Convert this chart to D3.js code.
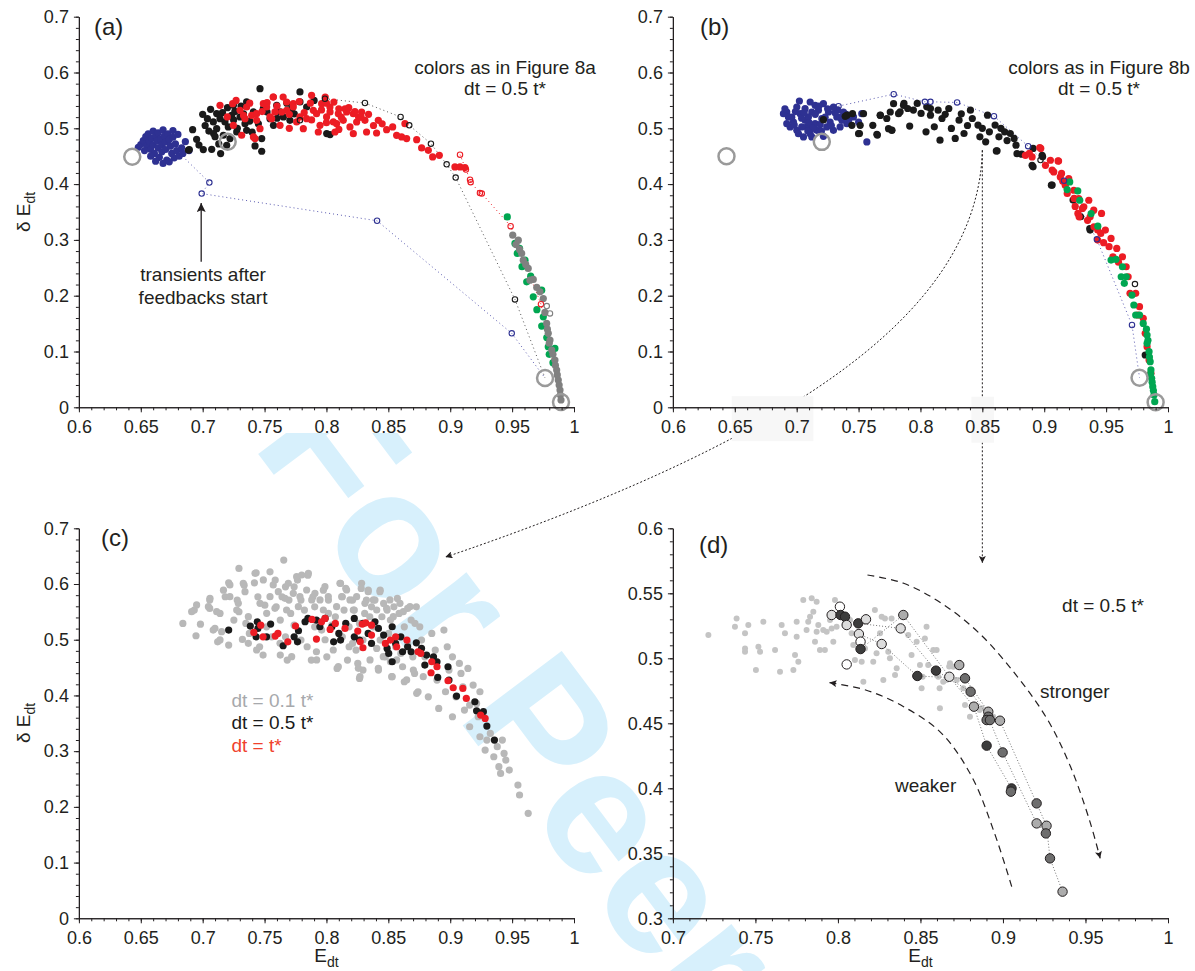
<!DOCTYPE html>
<html><head><meta charset="utf-8">
<script src="https://cdn.jsdelivr.net/npm/d3@7"></script>
<style>
body{margin:0;background:#fff;}
text{font-family:"Liberation Sans",Arial,Helvetica,sans-serif;}
</style></head>
<body><div id="chart"></div>
<script>
// ---------------- tick labels ----------------
const xTicksABC = [0.6,0.65,0.7,0.75,0.8,0.85,0.9,0.95,1];
const yTicksABC = [0,0.1,0.2,0.3,0.4,0.5,0.6,0.7];
const xTicksD = [0.7,0.75,0.8,0.85,0.9,0.95,1];
const yTicksD = [0.3,0.35,0.4,0.45,0.5,0.55,0.6];

// ---------------- panel (a) ----------------
const aBlue = [[0.648,0.466],[0.650,0.471],[0.652,0.478],[0.654,0.485],[0.655,0.469],[0.656,0.490],[0.657,0.476],[0.658,0.462],[0.659,0.482],[0.660,0.495],[0.660,0.470],[0.661,0.455],[0.662,0.487],[0.663,0.477],[0.664,0.465],[0.664,0.492],[0.665,0.448],[0.666,0.481],[0.667,0.470],[0.667,0.458],[0.668,0.497],[0.669,0.486],[0.670,0.475],[0.670,0.462],[0.671,0.443],[0.672,0.490],[0.673,0.480],[0.674,0.468],[0.675,0.455],[0.676,0.496],[0.676,0.484],[0.677,0.447],[0.678,0.472],[0.679,0.460],[0.680,0.489],[0.681,0.450],[0.683,0.465],[0.684,0.455],[0.686,0.476],[0.689,0.460],[0.662,0.441],[0.668,0.437],[0.673,0.440],[0.658,0.450],[0.653,0.460]];
const aBlack = [[0.6885,0.461],[0.6919,0.4976],[0.6951,0.4803],[0.6892,0.4618],[0.7005,0.4618],[0.7073,0.4624],[0.7145,0.4547],[0.7064,0.534],[0.7038,0.5173],[0.7113,0.5263],[0.718,0.5114],[0.7463,0.571],[0.7477,0.4815],[0.7423,0.4684],[0.7477,0.4589],[0.7248,0.5412],[0.7355,0.5472],[0.741,0.5293],[0.7544,0.5173],[0.7652,0.5203],[0.7786,0.5651],[0.7786,0.5472],[0.7705,0.5143],[0.8002,0.4905],[0.8029,0.4887],[0.7221,0.4815],[0.7194,0.4696],[0.7275,0.4935],[0.7113,0.4994],[0.7086,0.5114],[0.714,0.5173],[0.7302,0.5203],[0.7342,0.5083],[0.7207,0.5024],[0.7167,0.4875],[0.7234,0.5233],[0.749,0.5352],[0.7598,0.5412],[0.7625,0.5293],[0.7719,0.5352],[0.784,0.5382],[0.726,0.5303],[0.7088,0.4905],[0.7355,0.4964],[0.7572,0.5054],[0.702,0.505],[0.705,0.495],[0.71,0.485],[0.713,0.472],[0.716,0.528],[0.72,0.537],[0.725,0.515],[0.728,0.5],[0.731,0.54],[0.733,0.526],[0.738,0.513],[0.74,0.493],[0.745,0.508],[0.752,0.529],[0.76,0.518],[0.768,0.545],[0.774,0.526],[0.79,0.55],[0.7,0.525],[0.697,0.47]];
const aRed = [[0.714,0.5412],[0.7242,0.5442],[0.7199,0.5203],[0.7302,0.5323],[0.7342,0.5173],[0.7315,0.4875],[0.7355,0.5382],[0.7436,0.5143],[0.7423,0.4815],[0.7517,0.5382],[0.7571,0.5561],[0.7584,0.5293],[0.7625,0.5054],[0.7679,0.5323],[0.7732,0.5442],[0.7759,0.5114],[0.784,0.5173],[0.788,0.5591],[0.7894,0.5323],[0.7961,0.5442],[0.7948,0.5054],[0.8029,0.5293],[0.8056,0.5114],[0.7463,0.4994],[0.7396,0.5233],[0.7248,0.5054],[0.7557,0.5173],[0.757,0.556],[0.7678,0.5471],[0.8028,0.5382],[0.8096,0.5262],[0.8163,0.5292],[0.8217,0.5262],[0.819,0.5024],[0.8284,0.5292],[0.8311,0.5143],[0.8217,0.4904],[0.8324,0.4934],[0.8419,0.5143],[0.8405,0.4916],[0.8486,0.4976],[0.8535,0.5024],[0.8567,0.4874],[0.8607,0.4845],[0.8634,0.5083],[0.8648,0.4815],[0.8729,0.4797],[0.8769,0.4648],[0.8823,0.4606],[0.8858,0.4487],[0.8912,0.4516],[0.9038,0.4308],[0.9079,0.4308],[0.9119,0.4296],[0.7813,0.4994],[0.7934,0.4934],[0.8069,0.4934],[0.8082,0.5083],[0.8001,0.5203],[0.8136,0.5143],[0.792,0.5262],[0.7786,0.5203],[0.7732,0.5382],[0.7638,0.5292],[0.7544,0.5203],[0.749,0.5441],[0.7436,0.5262],[0.741,0.4845],[0.8244,0.5113],[0.815,0.535],[0.806,0.547],[0.826,0.52],[0.799,0.556],[0.727,0.55],[0.733,0.523],[0.738,0.545],[0.748,0.53],[0.752,0.546],[0.76,0.54],[0.765,0.556],[0.77,0.525],[0.778,0.548],[0.782,0.528],[0.787,0.545],[0.796,0.533],[0.8,0.545],[0.81,0.535],[0.812,0.52],[0.818,0.537],[0.823,0.53],[0.828,0.52],[0.834,0.525],[0.838,0.505],[0.845,0.508],[0.81,0.498],[0.8,0.51],[0.788,0.515],[0.77,0.5]];
const aGreen = [[0.9461,0.3412],[0.9523,0.2936],[0.9542,0.2757],[0.9604,0.2637],[0.9618,0.2249],[0.9671,0.198],[0.9739,0.2099],[0.9752,0.1622],[0.9739,0.1455],[0.9792,0.1085],[0.9846,0.1055],[0.956,0.285],[0.958,0.252],[0.965,0.235],[0.970,0.175],[0.978,0.125],[0.980,0.095],[0.983,0.080]];
const aGray = [[0.9505,0.3085],[0.955,0.2995],[0.9531,0.2918],[0.9577,0.2757],[0.959,0.2637],[0.963,0.2488],[0.9644,0.2279],[0.9671,0.2291],[0.9699,0.2148],[0.9725,0.207],[0.9752,0.195],[0.9779,0.1504],[0.9792,0.1325],[0.9806,0.1205],[0.982,0.1026],[0.9846,0.0847],[0.986,0.0668],[0.9873,0.0489],[0.9887,0.031],[0.9895,0.0131],[0.9765,0.17],[0.9785,0.14],[0.98,0.115],[0.983,0.095],[0.985,0.075],[0.9865,0.058],[0.988,0.04],[0.989,0.022],[0.961,0.256],[0.956,0.283]];
const aOpenBlack = [[0.7988,0.553],[0.8311,0.5453],[0.8599,0.5203],[0.8669,0.5053],[0.8844,0.4725],[0.8971,0.4355],[0.9044,0.4117],[0.9523,0.1933]];
const aOpenBlackExtra = [[0.7786,0.5143]];
const aOpenRed = [[0.9079,0.4528],[0.9127,0.426],[0.916,0.408],[0.9165,0.4035],[0.924,0.384],[0.9255,0.383],[0.9488,0.3246],[0.9733,0.1849]];
const aOpenBlue = [[0.7054,0.4028],[0.6992,0.383],[0.8409,0.3343],[0.9497,0.1325]];
const aOpenGray = [[0.978,0.1814],[0.9806,0.1683]];
const aBig = [[0.6431,0.449],[0.7202,0.4758],[0.9766,0.0525],[0.9895,0.0095]];
const aBlueStart = [0.686,0.445];
const aArrow = [[0.6988,0.261],[0.6988,0.366]];

// ---------------- panel (b) ----------------
const bBlue = [[0.692,0.529],[0.6933,0.5203],[0.7022,0.5489],[0.7001,0.5382],[0.7028,0.5262],[0.7068,0.5143],[0.6947,0.5024],[0.7001,0.4964],[0.7109,0.5471],[0.7122,0.5292],[0.7149,0.5083],[0.7109,0.4904],[0.7216,0.5441],[0.7203,0.5173],[0.7243,0.5024],[0.7216,0.4857],[0.7297,0.5382],[0.7324,0.5203],[0.7351,0.5024],[0.7378,0.5292],[0.7405,0.5083],[0.7055,0.4845],[0.7163,0.4964],[0.7082,0.5024],[0.6974,0.5113],[0.727,0.5113],[0.7176,0.5322],[0.7068,0.5352],[0.7567,0.4755],[0.75,0.5113],[0.7526,0.5262],[0.7459,0.5203],[0.6893,0.5262],[0.7041,0.5024],[0.7095,0.5203],[0.7149,0.5412],[0.7257,0.5292],[0.7297,0.4964],[0.7365,0.5143],[0.692,0.5083],[0.7014,0.4904],[0.7122,0.4845],[0.6905,0.535],[0.719,0.507],[0.733,0.533],[0.696,0.52],[0.699,0.53],[0.704,0.518],[0.706,0.528],[0.71,0.51],[0.713,0.5],[0.715,0.525],[0.718,0.54],[0.723,0.52],[0.728,0.505],[0.731,0.528],[0.735,0.52],[0.74,0.525],[0.698,0.506],[0.709,0.495],[0.72,0.495],[0.725,0.535],[0.742,0.515]];
const bBlack = [[0.7216,0.5155],[0.7392,0.5215],[0.7451,0.5262],[0.7446,0.5054],[0.7513,0.5054],[0.75,0.4904],[0.754,0.5262],[0.7615,0.5054],[0.7648,0.4892],[0.7675,0.5232],[0.7742,0.4994],[0.7769,0.4964],[0.7756,0.5292],[0.7783,0.5441],[0.7823,0.5262],[0.7863,0.5411],[0.7406,0.5236],[0.7507,0.4907],[0.7652,0.4878],[0.7676,0.5236],[0.7728,0.5176],[0.7768,0.4967],[0.7836,0.5296],[0.7867,0.5445],[0.7913,0.5039],[0.7943,0.5326],[0.7974,0.5445],[0.8005,0.5266],[0.8045,0.4937],[0.8081,0.5236],[0.8112,0.5027],[0.8158,0.4788],[0.8174,0.5176],[0.8229,0.5355],[0.825,0.4997],[0.8281,0.4818],[0.8312,0.5146],[0.8352,0.4907],[0.8404,0.5325],[0.8419,0.5176],[0.8465,0.5057],[0.848,0.4848],[0.8527,0.4758],[0.8542,0.5236],[0.8557,0.4937],[0.8603,0.5057],[0.8619,0.4597],[0.8634,0.4848],[0.868,0.4937],[0.8726,0.4907],[0.8757,0.4818],[0.8772,0.4698],[0.8818,0.4537],[0.891,0.4639],[0.8987,0.4489],[0.891,0.431],[0.9064,0.3982],[0.9233,0.3713],[0.9294,0.3415],[0.9371,0.3176],[0.9816,0.0937],[0.8081,0.5355],[0.8143,0.5325],[0.7897,0.5355],[0.8051,0.5385],[0.878,0.4546],[0.8902,0.4337],[0.9058,0.398],[0.9368,0.3204],[0.8613,0.4594],[0.8983,0.4516],[0.82,0.525],[0.838,0.505],[0.85,0.5],[0.865,0.5],[0.833,0.526],[0.87,0.478]];
const bRed = [[0.8848,0.4516],[0.8902,0.4487],[0.8964,0.4654],[0.901,0.4337],[0.905,0.4427],[0.9112,0.4415],[0.9077,0.4218],[0.913,0.4129],[0.917,0.398],[0.9198,0.4099],[0.9239,0.389],[0.9279,0.3741],[0.936,0.3711],[0.932,0.3592],[0.9282,0.3413],[0.94,0.3532],[0.888,0.4549],[0.8972,0.4639],[0.9116,0.4412],[0.9064,0.4251],[0.914,0.4191],[0.9171,0.4012],[0.9186,0.3833],[0.9242,0.3743],[0.9309,0.3564],[0.9272,0.3474],[0.9371,0.3415],[0.9463,0.3474],[0.9402,0.3236],[0.9457,0.3116],[0.9494,0.3176],[0.9432,0.2997],[0.954,0.3027],[0.9524,0.2878],[0.9586,0.2848],[0.9555,0.2698],[0.9632,0.2698],[0.9662,0.2519],[0.9678,0.234],[0.9693,0.2042],[0.9739,0.2042],[0.977,0.1803],[0.9755,0.1654],[0.98,0.1594],[0.9816,0.1325],[0.9831,0.1087],[0.9847,0.0848],[0.9862,0.0609],[0.9432,0.3176],[0.935,0.335],[0.948,0.295],[0.96,0.26],[0.925,0.36],[0.915,0.405]];
const bGreen = [[0.9206,0.4039],[0.9185,0.3902],[0.9271,0.3878],[0.9287,0.3711],[0.9379,0.3472],[0.9433,0.3246],[0.954,0.2639],[0.958,0.2651],[0.9632,0.2519],[0.9622,0.234],[0.9662,0.234],[0.9647,0.2221],[0.9709,0.2012],[0.9724,0.1833],[0.9739,0.1654],[0.977,0.1654],[0.98,0.1504],[0.9831,0.1295],[0.9831,0.1146],[0.9847,0.0997],[0.9856,0.0818],[0.9862,0.0669],[0.9868,0.0519],[0.9877,0.037],[0.9887,0.0221],[0.9893,0.0101],[0.9838,0.12],[0.985,0.09],[0.986,0.06],[0.9872,0.045],[0.9882,0.03],[0.9826,0.14]];
const bOpenBlue = [[0.7338,0.5397],[0.7784,0.5612],[0.8036,0.5475],[0.8081,0.5475],[0.8296,0.5463],[0.8594,0.5218],[0.887,0.468],[0.916,0.406],[0.9425,0.301],[0.9709,0.1475]];
const bOpenBlack = [[0.9733,0.2209],[0.897,0.443]];
const bBig = [[0.6433,0.45],[0.7203,0.4757],[0.977,0.053],[0.99,0.009]];
// links from (b) to (c) and (d), in (b) data units
const bCurve = [[0.85,0.4606],[0.8468,0.192],[0.719,-0.0406],[0.4162,-0.2685]];
const bDrop = [[0.85,0.4606],[0.85,-0.279]];

// ---------------- panel (c) ----------------
const cGray = [[0.684,0.5293],[0.6932,0.5532],[0.6946,0.5071],[0.6982,0.528],[0.7057,0.5711],[0.7057,0.5561],[0.7085,0.5173],[0.7121,0.4963],[0.714,0.5472],[0.7168,0.589],[0.7182,0.5771],[0.721,0.6022],[0.721,0.4904],[0.7279,0.5711],[0.7293,0.6279],[0.7293,0.5502],[0.7321,0.5005],[0.7335,0.598],[0.7349,0.5293],[0.7418,0.6022],[0.7432,0.6201],[0.7446,0.5771],[0.746,0.4874],[0.7488,0.4724],[0.7502,0.5621],[0.7544,0.6219],[0.7558,0.5053],[0.7586,0.607],[0.7594,0.5591],[0.7627,0.4724],[0.7641,0.5771],[0.7655,0.6429],[0.7669,0.595],[0.7683,0.4634],[0.7697,0.5711],[0.7711,0.5472],[0.7739,0.595],[0.7766,0.607],[0.7794,0.5711],[0.7822,0.5532],[0.785,0.6159],[0.7844,0.4874],[0.7878,0.4634],[0.7891,0.5771],[0.7905,0.5591],[0.7975,0.589],[0.7989,0.5],[0.8016,0.5472],[0.8044,0.5262],[0.8072,0.5412],[0.8086,0.4485],[0.8114,0.601],[0.8128,0.5771],[0.8142,0.5532],[0.8156,0.592],[0.817,0.4634],[0.8183,0.4874],[0.8211,0.5711],[0.8225,0.5532],[0.8239,0.4814],[0.8253,0.4575],[0.8267,0.4306],[0.8281,0.592],[0.8295,0.4455],[0.8309,0.5472],[0.8323,0.5711],[0.8337,0.5861],[0.835,0.5412],[0.8364,0.5591],[0.8378,0.5232],[0.8392,0.5711],[0.8406,0.4844],[0.842,0.4455],[0.8434,0.589],[0.8448,0.5412],[0.8462,0.5651],[0.8476,0.4694],[0.849,0.5532],[0.8503,0.5113],[0.8517,0.4605],[0.8531,0.4336],[0.8545,0.5591],[0.8573,0.5741],[0.8587,0.5472],[0.8601,0.4754],[0.8615,0.4515],[0.8629,0.4246],[0.8656,0.5561],[0.8684,0.5352],[0.8698,0.4694],[0.8712,0.4395],[0.8726,0.5591],[0.874,0.4066],[0.8754,0.5232],[0.8768,0.4993],[0.8782,0.4336],[0.8795,0.4694],[0.8823,0.3976],[0.8851,0.5113],[0.8865,0.4634],[0.8893,0.4276],[0.8907,0.3767],[0.8949,0.5173],[0.8962,0.4066],[0.8976,0.4874],[0.899,0.4455],[0.9018,0.3618],[0.9046,0.3976],[0.9074,0.4575],[0.9102,0.4156],[0.9115,0.3737],[0.9143,0.4485],[0.9157,0.3438],[0.9185,0.4186],[0.9213,0.3857],[0.924,0.4066],[0.924,0.3259],[0.9282,0.302],[0.9296,0.3199],[0.9324,0.3319],[0.938,0.308],[0.9393,0.2721],[0.9407,0.2601],[0.9421,0.3199],[0.9449,0.284],[0.9477,0.2661],[0.9547,0.2392],[0.956,0.2213],[0.963,0.1884],[0.9435,0.296],[0.9352,0.29],[0.7516,0.5232],[0.7377,0.5113],[0.7669,0.5053],[0.7794,0.4993],[0.7919,0.4784],[0.7961,0.5173],[0.8003,0.4694],[0.8128,0.5053],[0.8211,0.4933],[0.8295,0.4993],[0.8434,0.4993],[0.8559,0.4874],[0.8656,0.4933],[0.8629,0.5232],[0.8517,0.5352],[0.8267,0.5293],[0.8183,0.5232],[0.7905,0.5232],[0.7739,0.5262],[0.7252,0.5353],[0.7627,0.5353],[0.8016,0.5711],[0.8879,0.4814],[0.9018,0.4694],[0.9087,0.4395],[0.9157,0.3827],[0.9226,0.3618],[0.6951,0.5624],[0.6911,0.5504],[0.7046,0.5594],[0.7059,0.5743],[0.7113,0.5504],[0.7099,0.5205],[0.714,0.4996],[0.7153,0.5145],[0.722,0.5983],[0.722,0.5773],[0.7288,0.5654],[0.7275,0.5534],[0.7328,0.6013],[0.7342,0.5863],[0.7369,0.5414],[0.7369,0.4936],[0.7423,0.6192],[0.7436,0.4816],[0.7463,0.5654],[0.749,0.6073],[0.7517,0.5474],[0.7544,0.5773],[0.757,0.5983],[0.7584,0.5564],[0.7611,0.5863],[0.7625,0.4936],[0.7665,0.5743],[0.7678,0.5534],[0.7692,0.6013],[0.7719,0.4696],[0.7732,0.5833],[0.7759,0.6132],[0.7773,0.5594],[0.7786,0.5773],[0.78,0.6162],[0.784,0.5893],[0.7854,0.6192],[0.7881,0.5714],[0.7907,0.5833],[0.7921,0.4637],[0.7948,0.5714],[0.7975,0.5534],[0.7988,0.5953],[0.8015,0.5773],[0.8055,0.4816],[0.8082,0.5594],[0.8096,0.4517],[0.8109,0.6013],[0.8123,0.5773],[0.8163,0.5893],[0.819,0.5714],[0.8217,0.5534],[0.8244,0.5773],[0.8258,0.4487],[0.8271,0.4337],[0.8284,0.6013],[0.8311,0.5654],[0.8338,0.5893],[0.8352,0.4637],[0.8379,0.5714],[0.8406,0.5534],[0.8419,0.4487],[0.8432,0.5863],[0.8459,0.4696],[0.8486,0.5564],[0.8513,0.5714],[0.8527,0.4337],[0.854,0.5414],[0.8567,0.4637],[0.8594,0.5654],[0.8621,0.5504],[0.8648,0.4278],[0.8675,0.5594],[0.8702,0.4457],[0.8715,0.5295],[0.8729,0.4038]];
const cBlack = [[0.721,0.5173],[0.7385,0.5245],[0.7441,0.5323],[0.7446,0.5203],[0.7432,0.5053],[0.7549,0.5281],[0.7516,0.5053],[0.765,0.4892],[0.7739,0.5053],[0.7766,0.4963],[0.7774,0.5161],[0.7827,0.5323],[0.785,0.5383],[0.7919,0.5353],[0.7947,0.5233],[0.7989,0.5383],[0.8044,0.5233],[0.8058,0.4963],[0.81,0.5113],[0.8114,0.4993],[0.8156,0.5293],[0.8225,0.5383],[0.8225,0.5053],[0.8267,0.4993],[0.8295,0.5293],[0.8337,0.5113],[0.8364,0.4933],[0.8392,0.5323],[0.842,0.5203],[0.8462,0.5083],[0.849,0.4844],[0.8503,0.4754],[0.8531,0.5233],[0.8531,0.4605],[0.8559,0.4933],[0.8601,0.5053],[0.8615,0.4784],[0.8656,0.4874],[0.8684,0.4784],[0.8726,0.4945],[0.8768,0.4844],[0.8809,0.4724],[0.8795,0.4545],[0.8865,0.4694],[0.8893,0.4605],[0.8899,0.4324],[0.8982,0.4515],[0.899,0.4276],[0.9051,0.3988],[0.9199,0.3887],[0.9213,0.3725],[0.9268,0.3708],[0.9296,0.3451],[0.9357,0.3199]];
const cRed = [[0.7413,0.5131],[0.7469,0.5262],[0.7488,0.5053],[0.7586,0.5065],[0.7608,0.5113],[0.7688,0.4963],[0.775,0.5245],[0.7883,0.5364],[0.7919,0.5011],[0.7961,0.5323],[0.7989,0.5383],[0.803,0.5185],[0.8072,0.5293],[0.815,0.5203],[0.8253,0.5155],[0.8273,0.4963],[0.8295,0.4856],[0.8289,0.5281],[0.8317,0.5304],[0.8364,0.5262],[0.8364,0.5083],[0.8476,0.4933],[0.8517,0.4993],[0.8559,0.5053],[0.8567,0.4874],[0.865,0.4993],[0.874,0.4784],[0.8762,0.4754],[0.8851,0.4605],[0.8845,0.4407],[0.8893,0.4515],[0.8982,0.4264],[0.9024,0.4138],[0.9102,0.4126],[0.913,0.3947],[0.9246,0.3648],[0.9282,0.3588]];
const legendC = ["dt = 0.1 t*","dt = 0.5 t*","dt = t*"];

// ---------------- panel (d) ----------------
const dGray = [[0.7215,0.5179],[0.7386,0.5307],[0.7376,0.5243],[0.7457,0.5256],[0.7437,0.5192],[0.7548,0.5281],[0.7437,0.5076],[0.7437,0.505],[0.7518,0.5089],[0.7528,0.5051],[0.7619,0.5064],[0.7503,0.491],[0.7649,0.4897],[0.7659,0.5256],[0.7679,0.5192],[0.773,0.491],[0.774,0.5025],[0.776,0.4974],[0.775,0.5281],[0.775,0.5166],[0.781,0.5217],[0.782,0.5281],[0.779,0.5448],[0.7841,0.5461],[0.7871,0.5435],[0.7851,0.5358],[0.7831,0.532],[0.7861,0.5128],[0.7891,0.5064],[0.7921,0.5064],[0.7871,0.5205],[0.7881,0.5256],[0.7911,0.5217],[0.7932,0.5205],[0.7962,0.523],[0.7972,0.5128],[0.7952,0.5294],[0.7982,0.5448],[0.7992,0.5243],[0.8043,0.5269],[0.8073,0.5294],[0.8083,0.5192],[0.8103,0.4987],[0.8093,0.5102],[0.8144,0.4974],[0.8154,0.482],[0.8164,0.5076],[0.8214,0.4974],[0.8224,0.5371],[0.8234,0.5038],[0.8255,0.5192],[0.8275,0.4833],[0.8265,0.532],[0.8285,0.5307],[0.8325,0.5307],[0.8305,0.5051],[0.8315,0.5],[0.8346,0.4871],[0.8356,0.4923],[0.8426,0.5179],[0.8446,0.5025],[0.8477,0.5128],[0.8497,0.4948],[0.8507,0.4769],[0.8527,0.5153],[0.8537,0.5243],[0.8547,0.4948],[0.8578,0.5064],[0.8598,0.5064],[0.8608,0.4858],[0.8618,0.4615],[0.8638,0.482],[0.8658,0.4833],[0.8679,0.4961],[0.8699,0.4935],[0.876,0.4769],[0.877,0.4641],[0.88,0.4551],[0.8871,0.4615],[0.8941,0.4551],[0.8858,0.4603],[0.872,0.4833],[0.8616,0.4769],[0.8513,0.4859],[0.8674,0.4936]];
// [E, dE, shade index]
const dCircles = [[0.8012,0.5397,0],[0.7962,0.5333,1],[0.8016,0.5333,4],[0.8043,0.532,4],[0.8053,0.5256,1],[0.8123,0.5269,4],[0.817,0.53,1],[0.8127,0.5187,1],[0.8137,0.5128,0],[0.8137,0.5071,4],[0.8053,0.4953,0],[0.8265,0.511,1],[0.8396,0.5333,2],[0.838,0.523,1],[0.8481,0.4864,4],[0.8594,0.4905,4],[0.8675,0.4858,1],[0.8735,0.4948,2],[0.877,0.4846,3],[0.8804,0.4743,3],[0.8824,0.4628,2],[0.8911,0.4589,2],[0.8911,0.4551,3],[0.8901,0.4525,3],[0.8921,0.4525,3],[0.8982,0.452,2],[0.8901,0.4328,4],[0.8998,0.4276,3],[0.9052,0.3999,4],[0.9048,0.3974,3],[0.9204,0.3884,3],[0.9204,0.373,2],[0.9264,0.3712,2],[0.926,0.3653,3],[0.9285,0.3461,3],[0.9361,0.3205,2]];
const dShades = ["#ffffff","#dcdcdc","#acacac","#6e6e6e","#3c3c3c"];
const dTraj1 = [[0.8127,0.5187],[0.8265,0.511],[0.8481,0.4864],[0.877,0.4846],[0.8911,0.4589],[0.8982,0.452],[0.9204,0.3884],[0.9264,0.3712],[0.9285,0.3461],[0.9361,0.3205]];
const dTraj2 = [[0.8123,0.5269],[0.838,0.523],[0.8594,0.4905],[0.8804,0.4743],[0.8911,0.4551],[0.8998,0.4276],[0.9204,0.373],[0.926,0.3653]];
const dTraj3 = [[0.8137,0.5071],[0.8396,0.5333],[0.8675,0.4858],[0.8824,0.4628],[0.8901,0.4328],[0.9052,0.3999],[0.9048,0.3974]];
const dStronger = [[0.8179,0.5641],[0.8398,0.5577],[0.8628,0.5423],[0.8857,0.5192],[0.9087,0.4859],[0.9271,0.4526],[0.9409,0.4167],[0.9524,0.3756],[0.9589,0.3461]];
const dWeaker = [[0.9053,0.3244],[0.8949,0.3654],[0.8811,0.409],[0.8628,0.4423],[0.8398,0.4628],[0.8168,0.4756],[0.7949,0.4813]];

// ---------------- colours ----------------
const C = {blue:"#2e3192", red:"#ec1c24", black:"#1a1a1a", green:"#00a651", gray:"#808080",
  cgray:"#b8b8b8", dgray:"#c4c4c4", big:"#9a9a9a", ink:"#231f20", legendRed:"#f0412c", legendGray:"#a7a9ac"};

const W = 1195, H = 971;
const svg = d3.select("#chart").append("svg").attr("width", W).attr("height", H);
const defs = svg.append("defs");
function marker(id, w, l) {
  defs.append("marker").attr("id", id).attr("viewBox", "0 -5 10 10").attr("refX", 10).attr("refY", 0)
    .attr("markerUnits", "userSpaceOnUse").attr("markerWidth", l).attr("markerHeight", w).attr("orient", "auto")
    .append("path").attr("d", "M0,-5L10,0L0,5L2,0Z").attr("fill", C.ink);
}
marker("arrSmall", 7, 11);
marker("arrBig", 9, 13);

// watermark
const wm = svg.append("g").attr("clip-path", "url(#wmclip)");
defs.append("clipPath").attr("id", "wmclip").append("rect").attr("x", 0).attr("y", 433).attr("width", W).attr("height", H);
wm.append("text").attr("transform", "translate(251,444.5) rotate(53)").attr("font-size", 180)
  .attr("font-weight", "bold").attr("fill", "#d7f0fc").text("For Peer Review");

// scales
const xA = d3.scaleLinear([0.6, 1], [78.9, 574]),  yA = d3.scaleLinear([0, 0.7], [407.3, 16.7]);
const xB = d3.scaleLinear([0.6, 1], [672.9, 1168]), yB = d3.scaleLinear([0, 0.7], [407.3, 16.7]);
const xC = d3.scaleLinear([0.6, 1], [78.9, 574]),  yC = d3.scaleLinear([0, 0.7], [918.3, 528.3]);
const xD = d3.scaleLinear([0.7, 1], [672.9, 1168]), yD = d3.scaleLinear([0.3, 0.6], [918.3, 528.3]);

const fmt = d => String(+(+d).toFixed(2));
function axes(x, y, xt, yt, xstep, ystep) {
  const g = svg.append("g");
  const x0 = x.range()[0], y0 = y.range()[0];
  const xm = d3.range(Math.round(x.domain()[0] / xstep), Math.round(x.domain()[1] / xstep) + 1).map(i => i * xstep);
  const ym = d3.range(Math.round(y.domain()[0] / ystep), Math.round(y.domain()[1] / ystep) + 1).map(i => i * ystep);
  g.append("g").attr("transform", `translate(0,${y0})`).call(d3.axisBottom(x).tickValues(xm).tickSize(3).tickFormat("").tickSizeOuter(0));
  g.append("g").attr("transform", `translate(0,${y0})`).call(d3.axisBottom(x).tickValues(xt).tickSize(5).tickPadding(8).tickFormat(fmt).tickSizeOuter(0));
  g.append("g").attr("transform", `translate(${x0},0)`).call(d3.axisLeft(y).tickValues(ym).tickSize(3).tickFormat("").tickSizeOuter(0));
  g.append("g").attr("transform", `translate(${x0},0)`).call(d3.axisLeft(y).tickValues(yt).tickSize(5).tickPadding(5).tickFormat(fmt).tickSizeOuter(0));
  g.selectAll("path.domain").attr("stroke", C.ink).attr("stroke-width", 1.1);
  g.selectAll(".tick line").attr("stroke", C.ink).attr("stroke-width", 1);
  g.selectAll(".tick text").attr("font-size", 18).attr("fill", C.ink).attr("font-family", '"Liberation Sans",Arial,sans-serif');
}
function dots(x, y, data, r, fill) {
  svg.append("g").selectAll("circle").data(data).join("circle")
    .attr("cx", d => x(d[0])).attr("cy", d => y(d[1])).attr("r", r).attr("fill", fill);
}
function rings(x, y, data, r, stroke, sw) {
  svg.append("g").selectAll("circle").data(data).join("circle")
    .attr("cx", d => x(d[0])).attr("cy", d => y(d[1])).attr("r", r).attr("fill", "none")
    .attr("stroke", stroke).attr("stroke-width", sw);
}
function dotted(x, y, data, stroke, dash, curve) {
  svg.append("path").datum(data).attr("d", d3.line().x(d => x(d[0])).y(d => y(d[1])).curve(curve || d3.curveLinear))
    .attr("fill", "none").attr("stroke", stroke).attr("stroke-width", 1).attr("stroke-dasharray", dash);
}
function label(x, y, txt, size, anchor, fill) {
  return svg.append("text").attr("x", x).attr("y", y).attr("font-size", size)
    .attr("text-anchor", anchor || "start").attr("fill", fill || C.ink).text(txt);
}
function subLabel(x, y, main, sub, rotate) {
  const t = svg.append("text").attr("text-anchor", "middle").attr("fill", C.ink).attr("font-size", 19)
    .attr("transform", `translate(${x},${y})` + (rotate ? " rotate(-90)" : ""));
  t.append("tspan").text(main);
  t.append("tspan").attr("font-size", 14).attr("dy", 5).text(sub);
}

// ---------- cross-panel links ----------
{
  const p = d3.path();
  const q = bCurve.map(d => [xB(d[0]), yB(d[1])]);
  p.moveTo(q[0][0], q[0][1]);
  p.bezierCurveTo(q[1][0], q[1][1], q[2][0], q[2][1], q[3][0], q[3][1]);
  svg.append("path").attr("d", p.toString()).attr("fill", "none").attr("stroke", C.ink)
    .attr("stroke-width", 1).attr("stroke-dasharray", "2,2").attr("marker-end", "url(#arrSmall)");
  svg.append("line").attr("x1", xB(bDrop[0][0])).attr("y1", yB(bDrop[0][1]))
    .attr("x2", xB(bDrop[1][0])).attr("y2", yB(bDrop[1][1])).attr("stroke", C.ink)
    .attr("stroke-width", 1).attr("stroke-dasharray", "2,2").attr("marker-end", "url(#arrSmall)");
  svg.append("rect").attr("x", xB(0.6475)).attr("y", yB(0.02)).attr("width", xB(0.7135) - xB(0.6475)).attr("height", 45).attr("fill", "#f7f7f7");
  svg.append("rect").attr("x", xB(0.8412)).attr("y", yB(0.019)).attr("width", xB(0.8595) - xB(0.8412)).attr("height", 46).attr("fill", "#f7f7f7");
}

// ---------------- panel (a) ----------------
const R = 3.6;
dotted(xA, yA, [aBlueStart].concat(aOpenBlue, [aBig[2]]), "#5a5ab0", "1,3");
dotted(xA, yA, aOpenBlack.concat([aBig[2]]), "#555", "1,3");
dotted(xA, yA, aOpenRed.concat([aBig[3]]), C.red, "1,3");
dots(xA, yA, aBlue, R, C.blue);
dots(xA, yA, aBlack, R, C.black);
dots(xA, yA, aRed, R, C.red);
dots(xA, yA, aGreen, R, C.green);
dots(xA, yA, aGray, R, C.gray);
rings(xA, yA, aOpenBlack.concat(aOpenBlackExtra), 2.7, C.black, 1.1);
rings(xA, yA, aOpenRed, 2.7, C.red, 1.1);
rings(xA, yA, aOpenBlue, 2.7, C.blue, 1.1);
rings(xA, yA, aOpenGray, 2.7, C.gray, 1.1);
rings(xA, yA, aBig, 8, C.big, 2.5);
svg.append("line").attr("x1", xA(aArrow[0][0])).attr("y1", yA(aArrow[0][1]))
  .attr("x2", xA(aArrow[1][0])).attr("y2", yA(aArrow[1][1])).attr("stroke", C.ink).attr("stroke-width", 1.3)
  .attr("marker-end", "url(#arrBig)");
label(xA(0.7003), 281, "transients after", 19, "middle");
label(xA(0.7003), 304, "feedbacks start", 19, "middle");
label(505, 73.5, "colors as in Figure 8a", 19, "middle");
label(505, 95, "dt = 0.5 t*", 19, "middle");
label(94, 35, "(a)", 24);
axes(xA, yA, xTicksABC, yTicksABC, 0.01, 0.02);
subLabel(30, 212, "δ E", "dt", true);

// ---------------- panel (b) ----------------
dotted(xB, yB, bOpenBlue.concat([bBig[2]]), "#5a5ab0", "1,3");
dots(xB, yB, bBlue, R, C.blue);
dots(xB, yB, bBlack, R, C.black);
dots(xB, yB, bRed, R, C.red);
dots(xB, yB, bGreen, R, C.green);
rings(xB, yB, bOpenBlue, 2.7, C.blue, 1.1);
rings(xB, yB, bOpenBlack, 2.7, C.black, 1.1);
rings(xB, yB, bBig, 8, C.big, 2.5);
label(1099, 73.5, "colors as in Figure 8b", 19, "middle");
label(1099, 95, "dt = 0.5 t*", 19, "middle");
label(700, 35, "(b)", 24);
axes(xB, yB, xTicksABC, yTicksABC, 0.01, 0.02);

// ---------------- panel (c) ----------------
dots(xC, yC, cGray, R, C.cgray);
dots(xC, yC, cBlack, R, C.black);
dots(xC, yC, cRed, R, C.red);
[C.legendGray, C.black, C.legendRed].forEach((c, i) => label(231.5, 706.5 + i * 22.6, legendC[i], 19, "start", c));
label(101, 546, "(c)", 24);
axes(xC, yC, xTicksABC, yTicksABC, 0.01, 0.02);
subLabel(30, 723, "δ E", "dt", true);
subLabel(xC(0.8), 962, "E", "dt", false);

// ---------------- panel (d) ----------------
dots(xD, yD, dGray, 3, C.dgray);
[dTraj1, dTraj2, dTraj3].forEach(t => dotted(xD, yD, t, "#777", "1,2"));
svg.append("g").selectAll("circle").data(dCircles).join("circle")
  .attr("cx", d => xD(d[0])).attr("cy", d => yD(d[1])).attr("r", 4.7)
  .attr("fill", d => dShades[d[2]]).attr("stroke", C.ink).attr("stroke-width", 1);
[dStronger, dWeaker].forEach(t => {
  svg.append("path").datum(t).attr("d", d3.line().x(d => xD(d[0])).y(d => yD(d[1])).curve(d3.curveCatmullRom))
    .attr("fill", "none").attr("stroke", C.ink).attr("stroke-width", 1.2).attr("stroke-dasharray", "7,5")
    .attr("marker-end", "url(#arrSmall)");
});
label(1103, 611.5, "dt = 0.5 t*", 19, "middle");
label(1040, 698, "stronger", 19, "start");
label(895, 792, "weaker", 19, "start");
label(699, 553, "(d)", 24);
axes(xD, yD, xTicksD, yTicksD, 0.01, 0.01);
subLabel(xD(0.85), 962, "E", "dt", false);
</script></body></html>
